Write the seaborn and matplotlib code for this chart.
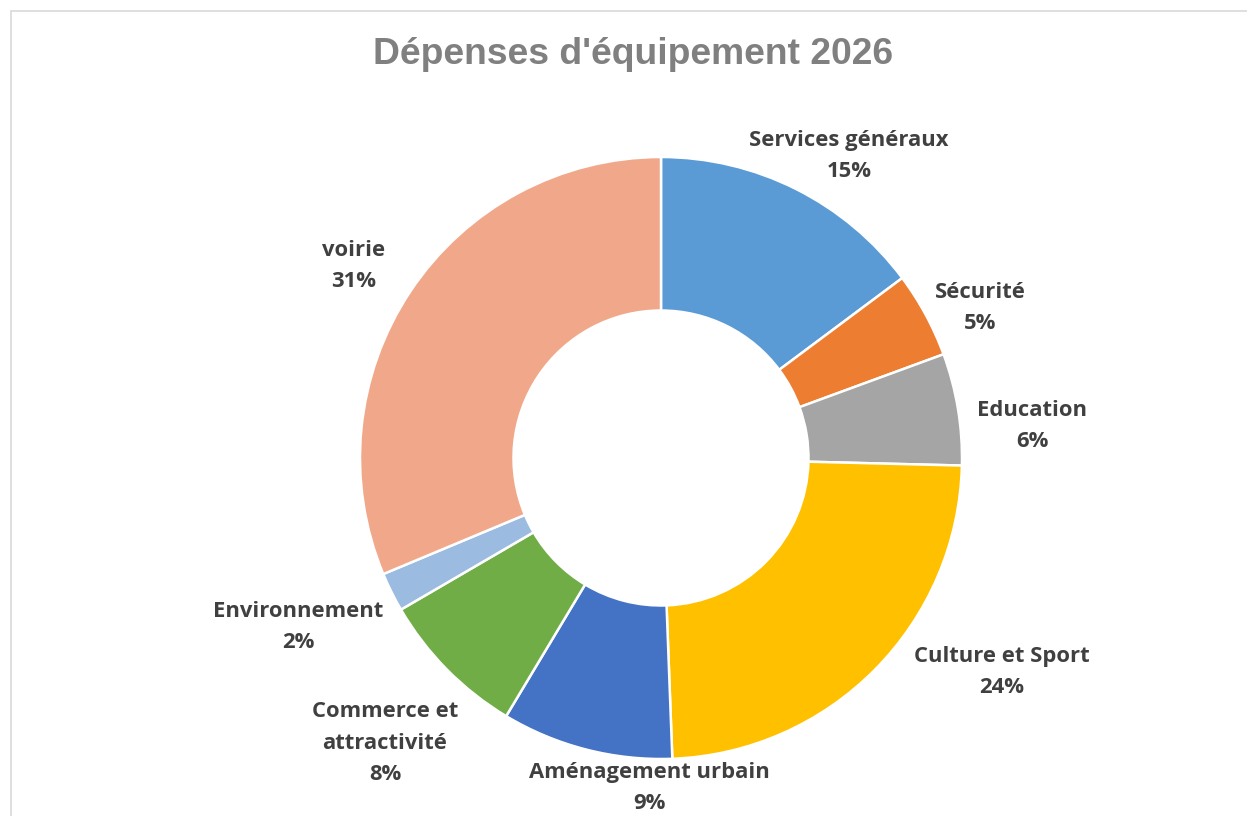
import matplotlib
matplotlib.use("Agg")
import matplotlib.pyplot as plt
import seaborn as sns
from matplotlib.patches import Rectangle

# ---- data ----
categories = ["Services généraux", "Sécurité", "Education", "Culture et Sport",
              "Aménagement urbain", "Commerce et\nattractivité", "Environnement", "voirie"]
values = [14.8, 4.6, 6.0, 24.0, 9.2, 8.0, 2.1, 31.3]
colors = ["#5B9BD5", "#ED7D31", "#A5A5A5", "#FFC000",
          "#4472C4", "#70AD47", "#9BBBE1", "#F1A88A"]
title = "Dépenses d'équipement 2026"

# label layout (in units of outer radius)
label_pos = [(0.625, 1.003), (1.060, 0.498), (1.233, 0.106), (1.133, -0.711),
             (-0.037, -1.096), (-0.917, -0.947), (-1.206, -0.561), (-1.020, 0.638)]

sns.set_theme(style="white")
plt.rcParams['font.family'] = ['Open Sans', 'DejaVu Sans']

W, H = 1247, 816
fig = plt.figure(figsize=(W / 100, H / 100), dpi=100)
ax = fig.add_axes([0, 0, 1, 1])
cx, cy, R = 661, 458, 301
ax.set_axis_off()

palette = sns.color_palette(colors)
ax.pie(values, colors=palette, startangle=90, counterclock=False, radius=1.0,
       wedgeprops=dict(width=0.51, edgecolor="white", linewidth=1.8))
ax.set_aspect("auto")
ax.set_xlim((0 - cx) / R, (W - cx) / R)
ax.set_ylim((cy - H) / R, (cy - 0) / R)

total = sum(values)
for cat, v, (lx, ly) in zip(categories, values, label_pos):
    ax.text(lx, ly, f"{cat}\n{round(v / total * 100):.0f}%", ha="center", va="center",
            fontsize=15.8, fontweight="bold", color="#404040", linespacing=1.66)

fig.text(633 / W, 1 - 54 / H, title, ha="center", va="center", fontsize=26.8,
         fontweight="bold", color="#808080", family=["Liberation Sans", "DejaVu Sans"])

fig.patches.append(Rectangle((11 / W, -0.05), 1.1, 1 - 11 / H + 0.05,
                             transform=fig.transFigure, fill=False,
                             edgecolor="#D9D9D9", linewidth=1.2))

fig.savefig("out.png", dpi=100, facecolor="white")
